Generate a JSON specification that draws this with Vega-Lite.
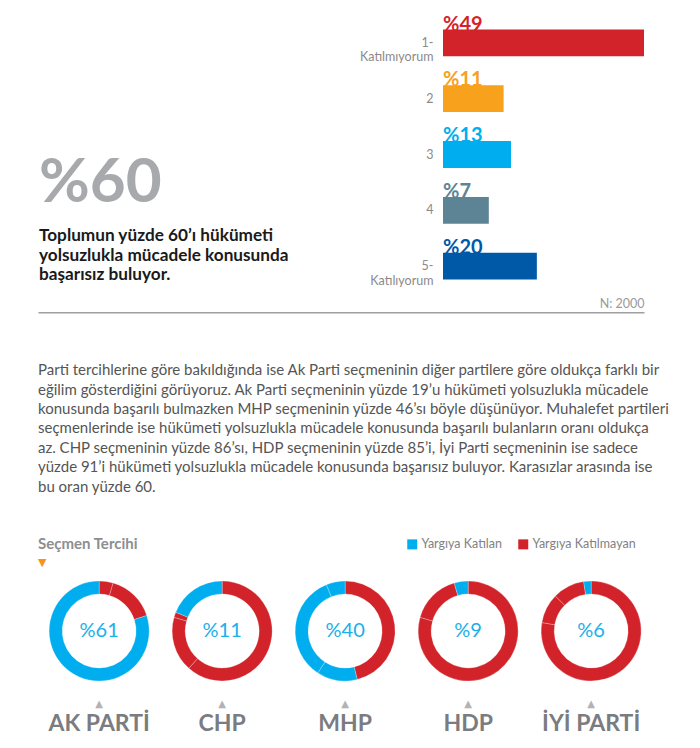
{
  "$schema": "https://vega.github.io/schema/vega-lite/v6.json",
  "background": "#ffffff",
  "padding": {"left": 38, "top": 14, "right": 0, "bottom": 0},
  "config": {"view": {"stroke": null}, "font": "Lato", "axis": {"grid": false}},
  "datasets": {
    "bars": [
      {"cat": "1-|Katılmıyorum", "v": 49, "lbl": "%49"},
      {"cat": "2", "v": 11, "lbl": "%11"},
      {"cat": "3", "v": 13, "lbl": "%13"},
      {"cat": "4", "v": 7, "lbl": "%7"},
      {"cat": "5-|Katılıyorum", "v": 20, "lbl": "%20"}
    ],
    "donuts": [
      {"party": "AK PARTİ", "seg": 1, "g": "Yargıya Katılmayan", "v": 4.5},
      {"party": "AK PARTİ", "seg": 2, "g": "Yargıya Katılmayan", "v": 15.5},
      {"party": "AK PARTİ", "seg": 3, "g": "Yargıya Katılan", "v": 80},
      {"party": "CHP", "seg": 1, "g": "Yargıya Katılmayan", "v": 61.6},
      {"party": "CHP", "seg": 2, "g": "Yargıya Katılmayan", "v": 17.8},
      {"party": "CHP", "seg": 3, "g": "Yargıya Katılmayan", "v": 1.7},
      {"party": "CHP", "seg": 4, "g": "Yargıya Katılan", "v": 18.9},
      {"party": "MHP", "seg": 1, "g": "Yargıya Katılmayan", "v": 46.1},
      {"party": "MHP", "seg": 2, "g": "Yargıya Katılan", "v": 13.1},
      {"party": "MHP", "seg": 3, "g": "Yargıya Katılan", "v": 34.7},
      {"party": "MHP", "seg": 4, "g": "Yargıya Katılan", "v": 6.1},
      {"party": "HDP", "seg": 1, "g": "Yargıya Katılmayan", "v": 79.4},
      {"party": "HDP", "seg": 2, "g": "Yargıya Katılmayan", "v": 16.1},
      {"party": "HDP", "seg": 3, "g": "Yargıya Katılan", "v": 4.5},
      {"party": "İYİ PARTİ", "seg": 1, "g": "Yargıya Katılmayan", "v": 77.7},
      {"party": "İYİ PARTİ", "seg": 2, "g": "Yargıya Katılmayan", "v": 9.6},
      {"party": "İYİ PARTİ", "seg": 3, "g": "Yargıya Katılmayan", "v": 10.3},
      {"party": "İYİ PARTİ", "seg": 4, "g": "Yargıya Katılan", "v": 2.4}
    ],
    "centers": [
      {"party": "AK PARTİ", "lbl": "%61"},
      {"party": "CHP", "lbl": "%11"},
      {"party": "MHP", "lbl": "%40"},
      {"party": "HDP", "lbl": "%9"},
      {"party": "İYİ PARTİ", "lbl": "%6"}
    ],
    "para": [
      {"k": "p", "t": "Parti tercihlerine göre bakıldığında ise Ak Parti seçmeninin diğer partilere göre oldukça farklı bir\neğilim gösterdiğini görüyoruz. Ak Parti seçmeninin yüzde 19’u hükümeti yolsuzlukla mücadele\nkonusunda başarılı bulmazken MHP seçmeninin yüzde 46’sı böyle düşünüyor. Muhalefet partileri\nseçmenlerinde ise hükümeti yolsuzlukla mücadele konusunda başarılı bulanların oranı oldukça\naz. CHP seçmeninin yüzde 86’sı, HDP seçmeninin yüzde 85’i, İyi Parti seçmeninin ise sadece\nyüzde 91’i hükümeti yolsuzlukla mücadele konusunda başarısız buluyor. Karasızlar arasında ise\nbu oran yüzde 60."}
    ]
  },
  "spacing": 2.25,
  "resolve": {"scale": {"color": "independent"}, "legend": {"color": "independent"}},
  "vconcat": [
    {
      "bounds": "flush",
      "spacing": 403,
      "hconcat": [
        {
          "width": 2,
          "height": 274.5,
          "data": {"values": [
            {"k": "big", "t": "%60"},
            {"k": "desc", "t": "Toplumun yüzde 60’ı hükümeti\nyolsuzlukla mücadele konusunda\nbaşarısız buluyor."}
          ]},
          "resolve": {"scale": {"y": "independent"}},
          "layer": [
            {
              "transform": [{"filter": "datum.k === 'big'"}],
              "mark": {"type": "text", "align": "left", "baseline": "middle", "fontSize": 62, "fontWeight": "bold", "color": "#a7a9ac"},
              "encoding": {
                "y": {"field": "k", "type": "nominal", "scale": {"type": "band", "paddingInner": 0, "paddingOuter": 1, "align": 0.668}, "axis": null},
                "text": {"field": "t"}
              }
            },
            {
              "transform": [{"filter": "datum.k === 'desc'"}],
              "mark": {"type": "text", "align": "left", "baseline": "middle", "fontSize": 17.2, "fontWeight": "bold", "color": "#1a1a1a", "lineBreak": "\n", "lineHeight": 19.6},
              "encoding": {
                "y": {"field": "k", "type": "nominal", "scale": {"type": "band", "paddingInner": 0, "paddingOuter": 1, "align": 0.959}, "axis": null},
                "text": {"field": "t"}
              }
            }
          ]
        },
        {
          "width": 201,
          "height": 279,
          "data": {"name": "bars"},
          "encoding": {
            "color": {"field": "cat", "type": "nominal", "sort": null, "scale": {"domain": ["1-|Katılmıyorum", "2", "3", "4", "5-|Katılıyorum"], "range": ["#d2232a", "#f7a11d", "#00aeef", "#5c8495", "#0059a7"]}, "legend": null}
          },
          "layer": [
            {
              "mark": {"type": "text", "align": "left", "baseline": "alphabetic", "dy": 1, "fontSize": 20, "fontWeight": "bold"},
              "encoding": {
                "x": {"datum": -5.4, "type": "quantitative", "scale": {"domain": [-5.4, 49], "nice": false, "zero": false}, "axis": {"title": "N: 2000", "labels": false, "ticks": false, "domain": false, "titleAnchor": "end", "titleColor": "#9a9a9a", "titleFontSize": 12.5, "titleFontWeight": "normal", "titlePadding": 3}},
                "y": {"field": "cat", "type": "nominal", "sort": null, "bandPosition": 0, "scale": {"type": "band", "paddingInner": 0.52, "paddingOuter": 0.26}, "axis": {"title": null, "domain": false, "ticks": false, "labelExpr": "split(datum.value, '|')", "labelColor": "#8a8a8a", "labelFontSize": 12.5, "labelLineHeight": 14.5, "labelPadding": 10, "labelAlign": "right", "labelBaseline": "middle"}},
                "text": {"field": "lbl"}
              }
            },
            {
              "mark": {"type": "bar"},
              "encoding": {
                "x": {"field": "v", "type": "quantitative", "scale": {"domain": [-5.4, 49], "nice": false, "zero": false}, "axis": {"title": "N: 2000", "labels": false, "ticks": false, "domain": false, "titleAnchor": "end", "titleColor": "#9a9a9a", "titleFontSize": 12.5, "titleFontWeight": "normal", "titlePadding": 3}},
                "x2": {"datum": -5.4},
                "y": {"field": "cat", "type": "nominal", "sort": null, "scale": {"type": "band", "paddingInner": 0.52, "paddingOuter": 0.26}, "axis": {"title": null, "domain": false, "ticks": false, "labelExpr": "split(datum.value, '|')", "labelColor": "#8a8a8a", "labelFontSize": 12.5, "labelLineHeight": 14.5, "labelPadding": 10, "labelAlign": "right", "labelBaseline": "middle"}}
              }
            }
          ]
        }
      ]
    },
    {
      "width": 606,
      "height": 221.75,
      "data": {"name": "para"},
      "mark": {"type": "text", "align": "left", "baseline": "middle", "fontSize": 15, "color": "#555555", "lineBreak": "\n", "lineHeight": 19.4},
      "encoding": {
        "x": {"field": "k", "type": "nominal", "scale": {"type": "point", "padding": 0, "align": 0}, "axis": {"orient": "top", "title": null, "labels": false, "ticks": false, "domainColor": "#a0a0a0", "domainWidth": 1.5}},
        "y": {"field": "k", "type": "nominal", "scale": {"type": "band", "paddingInner": 0, "paddingOuter": 1, "align": 0.1423}, "axis": null},
        "text": {"field": "t"}
      }
    },
    {
      "title": {"text": "Seçmen Tercihi", "subtitle": "▼", "anchor": "start", "orient": "top", "fontSize": 15, "fontWeight": "bold", "color": "#8c8e91", "subtitleFont": "DejaVu Sans", "subtitleColor": "#f7941d", "subtitleFontSize": 11, "subtitlePadding": 5, "offset": -30},
      "bounds": "flush",
      "spacing": 0,
      "resolve": {"scale": {"color": "shared"}, "legend": {"color": "shared"}},
      "hconcat": [
        {
          "width": 122.3, "height": 135,
          "title": {"text": "▲", "orient": "bottom", "anchor": "middle", "font": "DejaVu Sans", "fontSize": 10, "color": "#b1b3b6", "offset": 0, "subtitle": "AK PARTİ", "subtitleFont": "Lato", "subtitleFontSize": 23, "subtitleFontWeight": "bold", "subtitleColor": "#7b7c7f", "subtitlePadding": 4},
          "layer": [
            {"data": {"name": "donuts"}, "transform": [{"filter": "datum.party === 'AK PARTİ'"}], "mark": {"type": "arc", "innerRadius": 37, "outerRadius": 50, "stroke": "#ffffff", "strokeWidth": 0.7, "strokeOpacity": 0.35},
             "encoding": {"theta": {"field": "v", "type": "quantitative", "stack": true}, "order": {"field": "seg"},
               "color": {"field": "g", "type": "nominal", "scale": {"domain": ["Yargıya Katılan", "Yargıya Katılmayan"], "range": ["#00aeef", "#d2232a"]}, "legend": {"title": null, "orient": "none", "legendX": 368, "legendY": -25.5, "direction": "horizontal", "symbolType": "square", "symbolSize": 100, "symbolStrokeWidth": 0, "labelFontSize": 12.5, "labelColor": "#808285", "columnPadding": 15, "labelOffset": 3}}}},
            {"data": {"name": "centers"}, "transform": [{"filter": "datum.party === 'AK PARTİ'"}], "mark": {"type": "text", "fontSize": 20, "color": "#1ab0ea", "align": "center", "baseline": "middle"}, "encoding": {"text": {"field": "lbl"}}}
          ]
        },
        {
          "width": 122.3, "height": 135,
          "title": {"text": "▲", "orient": "bottom", "anchor": "middle", "font": "DejaVu Sans", "fontSize": 10, "color": "#b1b3b6", "offset": 0, "subtitle": "CHP", "subtitleFont": "Lato", "subtitleFontSize": 23, "subtitleFontWeight": "bold", "subtitleColor": "#7b7c7f", "subtitlePadding": 4},
          "layer": [
            {"data": {"name": "donuts"}, "transform": [{"filter": "datum.party === 'CHP'"}], "mark": {"type": "arc", "innerRadius": 37, "outerRadius": 50, "stroke": "#ffffff", "strokeWidth": 0.7, "strokeOpacity": 0.35},
             "encoding": {"theta": {"field": "v", "type": "quantitative", "stack": true}, "order": {"field": "seg"},
               "color": {"field": "g", "type": "nominal", "scale": {"domain": ["Yargıya Katılan", "Yargıya Katılmayan"], "range": ["#00aeef", "#d2232a"]}, "legend": {"title": null, "orient": "none", "legendX": 368, "legendY": -25.5, "direction": "horizontal", "symbolType": "square", "symbolSize": 100, "symbolStrokeWidth": 0, "labelFontSize": 12.5, "labelColor": "#808285", "columnPadding": 15, "labelOffset": 3}}}},
            {"data": {"name": "centers"}, "transform": [{"filter": "datum.party === 'CHP'"}], "mark": {"type": "text", "fontSize": 20, "color": "#1ab0ea", "align": "center", "baseline": "middle"}, "encoding": {"text": {"field": "lbl"}}}
          ]
        },
        {
          "width": 122.3, "height": 135,
          "title": {"text": "▲", "orient": "bottom", "anchor": "middle", "font": "DejaVu Sans", "fontSize": 10, "color": "#b1b3b6", "offset": 0, "subtitle": "MHP", "subtitleFont": "Lato", "subtitleFontSize": 23, "subtitleFontWeight": "bold", "subtitleColor": "#7b7c7f", "subtitlePadding": 4},
          "layer": [
            {"data": {"name": "donuts"}, "transform": [{"filter": "datum.party === 'MHP'"}], "mark": {"type": "arc", "innerRadius": 37, "outerRadius": 50, "stroke": "#ffffff", "strokeWidth": 0.7, "strokeOpacity": 0.35},
             "encoding": {"theta": {"field": "v", "type": "quantitative", "stack": true}, "order": {"field": "seg"},
               "color": {"field": "g", "type": "nominal", "scale": {"domain": ["Yargıya Katılan", "Yargıya Katılmayan"], "range": ["#00aeef", "#d2232a"]}, "legend": {"title": null, "orient": "none", "legendX": 368, "legendY": -25.5, "direction": "horizontal", "symbolType": "square", "symbolSize": 100, "symbolStrokeWidth": 0, "labelFontSize": 12.5, "labelColor": "#808285", "columnPadding": 15, "labelOffset": 3}}}},
            {"data": {"name": "centers"}, "transform": [{"filter": "datum.party === 'MHP'"}], "mark": {"type": "text", "fontSize": 20, "color": "#1ab0ea", "align": "center", "baseline": "middle"}, "encoding": {"text": {"field": "lbl"}}}
          ]
        },
        {
          "width": 122.3, "height": 135,
          "title": {"text": "▲", "orient": "bottom", "anchor": "middle", "font": "DejaVu Sans", "fontSize": 10, "color": "#b1b3b6", "offset": 0, "subtitle": "HDP", "subtitleFont": "Lato", "subtitleFontSize": 23, "subtitleFontWeight": "bold", "subtitleColor": "#7b7c7f", "subtitlePadding": 4},
          "layer": [
            {"data": {"name": "donuts"}, "transform": [{"filter": "datum.party === 'HDP'"}], "mark": {"type": "arc", "innerRadius": 37, "outerRadius": 50, "stroke": "#ffffff", "strokeWidth": 0.7, "strokeOpacity": 0.35},
             "encoding": {"theta": {"field": "v", "type": "quantitative", "stack": true}, "order": {"field": "seg"},
               "color": {"field": "g", "type": "nominal", "scale": {"domain": ["Yargıya Katılan", "Yargıya Katılmayan"], "range": ["#00aeef", "#d2232a"]}, "legend": {"title": null, "orient": "none", "legendX": 368, "legendY": -25.5, "direction": "horizontal", "symbolType": "square", "symbolSize": 100, "symbolStrokeWidth": 0, "labelFontSize": 12.5, "labelColor": "#808285", "columnPadding": 15, "labelOffset": 3}}}},
            {"data": {"name": "centers"}, "transform": [{"filter": "datum.party === 'HDP'"}], "mark": {"type": "text", "fontSize": 20, "color": "#1ab0ea", "align": "center", "baseline": "middle"}, "encoding": {"text": {"field": "lbl"}}}
          ]
        },
        {
          "width": 122.3, "height": 135,
          "title": {"text": "▲", "orient": "bottom", "anchor": "middle", "font": "DejaVu Sans", "fontSize": 10, "color": "#b1b3b6", "offset": 0, "subtitle": "İYİ PARTİ", "subtitleFont": "Lato", "subtitleFontSize": 23, "subtitleFontWeight": "bold", "subtitleColor": "#7b7c7f", "subtitlePadding": 4},
          "layer": [
            {"data": {"name": "donuts"}, "transform": [{"filter": "datum.party === 'İYİ PARTİ'"}], "mark": {"type": "arc", "innerRadius": 37, "outerRadius": 50, "stroke": "#ffffff", "strokeWidth": 0.7, "strokeOpacity": 0.35},
             "encoding": {"theta": {"field": "v", "type": "quantitative", "stack": true}, "order": {"field": "seg"},
               "color": {"field": "g", "type": "nominal", "scale": {"domain": ["Yargıya Katılan", "Yargıya Katılmayan"], "range": ["#00aeef", "#d2232a"]}, "legend": {"title": null, "orient": "none", "legendX": 368, "legendY": -25.5, "direction": "horizontal", "symbolType": "square", "symbolSize": 100, "symbolStrokeWidth": 0, "labelFontSize": 12.5, "labelColor": "#808285", "columnPadding": 15, "labelOffset": 3}}}},
            {"data": {"name": "centers"}, "transform": [{"filter": "datum.party === 'İYİ PARTİ'"}], "mark": {"type": "text", "fontSize": 20, "color": "#1ab0ea", "align": "center", "baseline": "middle"}, "encoding": {"text": {"field": "lbl"}}}
          ]
        }
      ]
    }
  ]
}
